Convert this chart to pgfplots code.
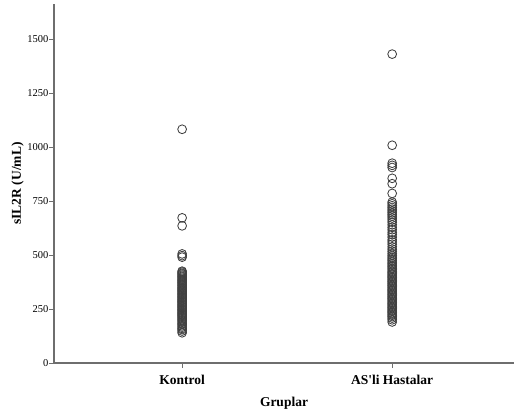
\documentclass[border=0pt]{standalone}
\usepackage{fontspec}
\setmainfont{Liberation Serif}
\usepackage{pgfplots}
\pgfplotsset{compat=1.18}
\definecolor{axcol}{HTML}{6E6E6E}
\definecolor{mk}{HTML}{404040}
\begin{document}
\begin{tikzpicture}
\begin{axis}[
  scale only axis,
  width=460bp, height=359bp,
  xmin=-0.61, xmax=1.58,
  ymin=0, ymax=1662,
  axis x line*=bottom, axis y line*=left,
  axis line style={-, draw=axcol, line width=1.1pt},
  xtick={0,1}, xticklabels={Kontrol, AS\textquotesingle li Hastalar},
  ytick={0,250,500,750,1000,1250,1500},
  tick align=outside, major tick length=5bp,
  tick style={draw=axcol, line width=0.8pt},
  xticklabel style={font=\fontsize{13.5bp}{15bp}\selectfont\bfseries, yshift=-4bp},
  yticklabel style={font=\fontsize{10.5bp}{12bp}\selectfont, xshift=3bp},
  /pgf/number format/assume math mode=true,
  /pgf/number format/set thousands separator={},
  xlabel={Gruplar}, ylabel={sIL2R (U/mL)},
  label style={font=\fontsize{13.5bp}{15bp}\selectfont\bfseries},
  xlabel style={at={(axis description cs:0.5,-0.1114)}, anchor=center},
  ylabel style={at={(axis description cs:-0.0790,0.5)}, anchor=center},
  clip=false,
]
\addplot[only marks, mark=o, mark size=4.4bp, mark options={draw=mk, line width=0.85pt}] coordinates {
(0,1082) (0,672) (0,635) (0,505) (0,497) (0,490)
(0,425) (0,421) (0,416) (0,412) (0,407) (0,402) (0,398) (0,393) (0,388) (0,383)
(0,379) (0,374) (0,370) (0,365) (0,360) (0,356) (0,350) (0,346) (0,341) (0,337)
(0,332) (0,327) (0,322) (0,318) (0,313) (0,308) (0,304) (0,299) (0,294) (0,290)
(0,285) (0,281) (0,276) (0,271) (0,267) (0,262) (0,258) (0,253) (0,248) (0,244)
(0,239) (0,234) (0,230) (0,225) (0,221) (0,216) (0,211) (0,206) (0,200) (0,195)
(0,189) (0,183) (0,178) (0,172) (0,166) (0,160) (0,155) (0,148) (0,140)
};
\addplot[only marks, mark=o, mark size=4.4bp, mark options={draw=mk, line width=0.85pt}] coordinates {
(1,1430) (1,1008) (1,925) (1,915) (1,905) (1,855) (1,830) (1,785)
(1,745) (1,737) (1,728) (1,720) (1,712) (1,704) (1,696) (1,688) (1,680)
(1,671) (1,662) (1,652) (1,640) (1,628) (1,617) (1,605) (1,595) (1,583)
(1,570) (1,560) (1,550) (1,538) (1,527) (1,517) (1,507) (1,498) (1,490)
(1,482) (1,475) (1,467) (1,460) (1,453) (1,446) (1,439) (1,432) (1,425)
(1,419) (1,413) (1,407) (1,401) (1,395) (1,389) (1,383) (1,377) (1,371)
(1,365) (1,359) (1,353) (1,347) (1,341) (1,335) (1,329) (1,323) (1,317)
(1,311) (1,305) (1,299) (1,293) (1,287) (1,281) (1,275) (1,269) (1,263)
(1,257) (1,251) (1,245) (1,239) (1,233) (1,227) (1,221) (1,215) (1,208)
(1,200) (1,190)
};
\coordinate (ll) at (rel axis cs:0,0);
\coordinate (ur) at (rel axis cs:1,1);
\end{axis}
\pgfresetboundingbox
\path (ll) ++(-54bp,-55bp) coordinate (a);
\path (ur) ++(0bp,4bp) coordinate (b);
\path (a) rectangle (b);
\end{tikzpicture}
\end{document}
